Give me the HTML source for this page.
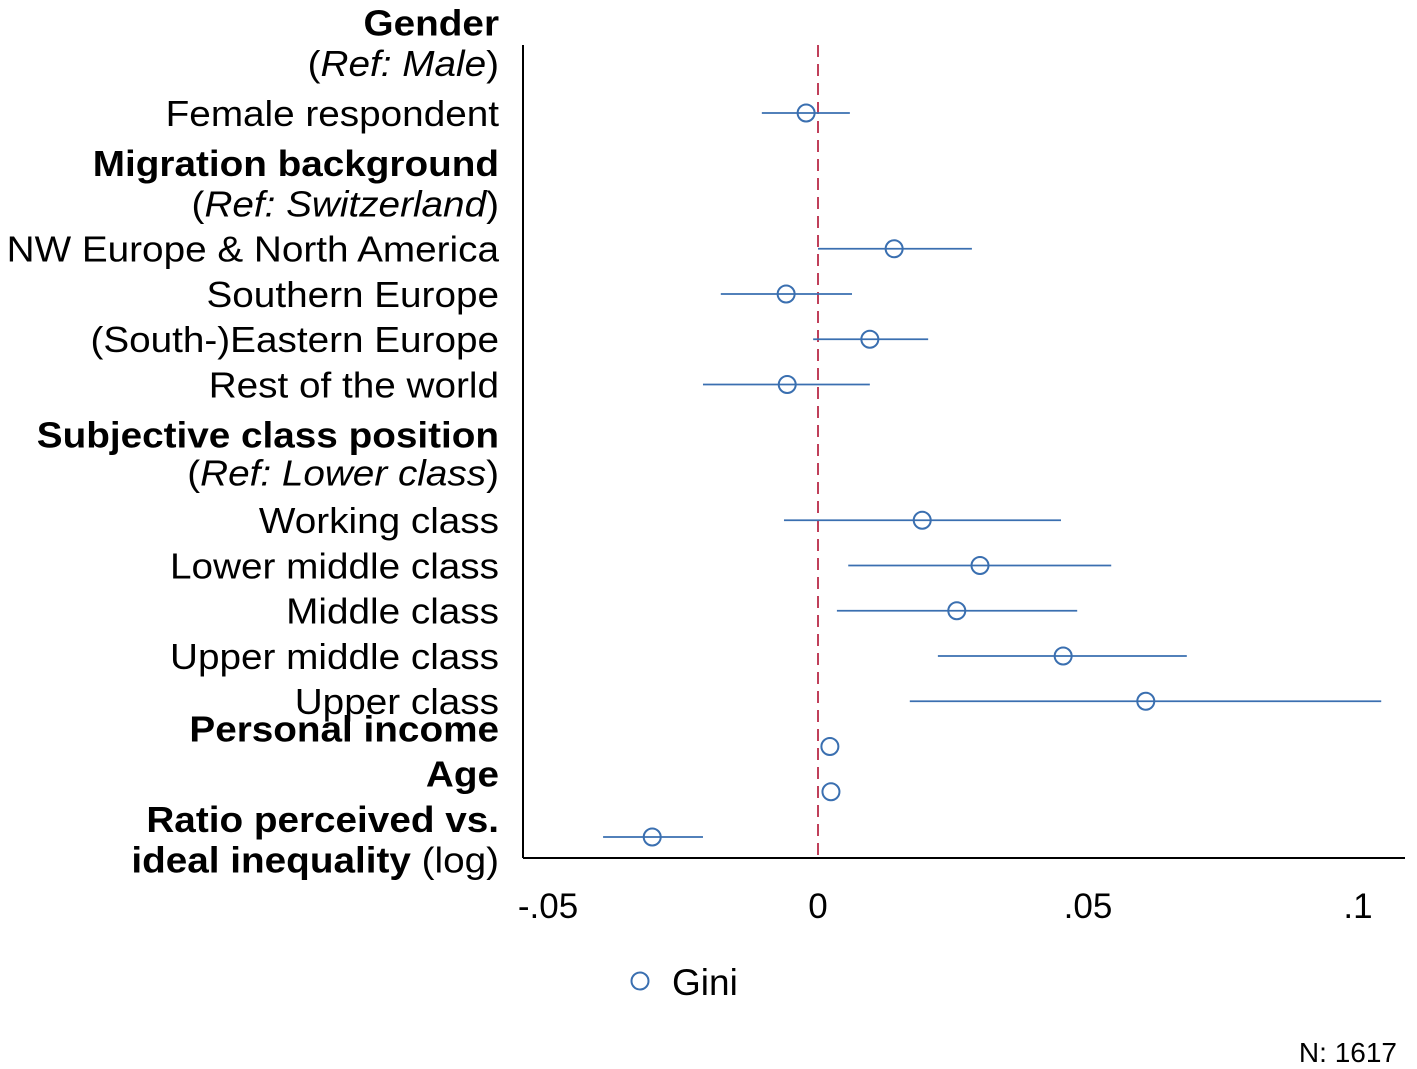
<!DOCTYPE html>
<html><head><meta charset="utf-8"><style>
html,body{margin:0;padding:0;background:#fff;}
svg{display:block;font-family:"Liberation Sans",Arial,sans-serif;}
</style></head><body>
<svg id="chart" width="1417" height="1069" viewBox="0 0 1417 1069">
<g id="labels" font-size="36" text-anchor="end" fill="#000" transform="translate(499,0) scale(1.075,1) translate(-499,0)"></g>
<line x1="523" y1="45" x2="523" y2="858" stroke="#000" stroke-width="2"/>
<line x1="523" y1="858" x2="1405" y2="858" stroke="#000" stroke-width="2"/>
<line id="zero" y1="45" y2="858" stroke="#c0405a" stroke-width="2" stroke-dasharray="12,7"/>
<g id="ticks" font-size="35" text-anchor="middle"></g>
<g id="marks"></g>
<g>
<circle cx="640" cy="981" r="8.5" fill="none" stroke="#3a6fb0" stroke-width="2"/>
<text x="672" y="995" font-size="37">Gini</text>
</g>
<text x="1397" y="1062" font-size="28" text-anchor="end">N: 1617</text>
</svg>
<script>
const rowNames=["Female respondent","NW Europe & North America","Southern Europe","(South-)Eastern Europe","Rest of the world","Working class","Lower middle class","Middle class","Upper middle class","Upper class","Personal income","Age","Ratio"];
const rowSlots=[2,5,6,7,8,11,12,13,14,15,16,17,18];
const estimates=[-0.0022,0.0141,-0.0059,0.0096,-0.0057,0.0193,0.030,0.0257,0.0454,0.0607,0.0022,0.0024,-0.0307];
const ciLow=[-0.0104,0,-0.018,-0.0009,-0.0213,-0.0063,0.0056,0.0035,0.0222,0.017,0.0022,0.0024,-0.0398];
const ciHigh=[0.0059,0.0285,0.0063,0.0204,0.0096,0.045,0.0543,0.048,0.0683,0.1043,0.0022,0.0024,-0.0213];
const tickValues=[-0.05,0,0.05,0.1];
const tickLabels=["-.05","0",".05",".1"];
const NS="http://www.w3.org/2000/svg";
function x(v){return 818+v*5400;}
function slotY(s){return 113+(s-2)*45.25;}
function mk(tag,attrs,parent){const e=document.createElementNS(NS,tag);for(const k in attrs)e.setAttribute(k,attrs[k]);parent.appendChild(e);return e;}
document.getElementById('zero').setAttribute('x1',x(0));
document.getElementById('zero').setAttribute('x2',x(0));
const tg=document.getElementById('ticks');
tickValues.forEach((v,i)=>{const t=mk('text',{x:x(v),y:918},tg);t.textContent=tickLabels[i];

});
const mg=document.getElementById('marks');
estimates.forEach((v,i)=>{const y=slotY(rowSlots[i]);
const l=mk('line',{x1:x(ciLow[i]),x2:x(ciHigh[i]),y1:y,y2:y,stroke:'#3a6fb0','stroke-width':1.8},mg);


const c=mk('circle',{cx:x(v),cy:y,r:8.5,fill:'none',stroke:'#3a6fb0','stroke-width':2},mg);

});
const lg=document.getElementById('labels');
const labelDefs=[
[0,'<tspan font-weight="bold">Gender</tspan>'],[0.9,'(<tspan font-style="italic">Ref: Male</tspan>)'],
[2,'Female respondent'],[3.1,'<tspan font-weight="bold">Migration background</tspan>'],[4,'(<tspan font-style="italic">Ref: Switzerland</tspan>)'],
[5,'NW Europe &amp; North America'],[6,'Southern Europe'],[7,'(South-)Eastern Europe'],[8,'Rest of the world'],
[9.1,'<tspan font-weight="bold">Subjective class position</tspan>'],[9.95,'(<tspan font-style="italic">Ref: Lower class</tspan>)'],
[11,'Working class'],[12,'Lower middle class'],[13,'Middle class'],[14,'Upper middle class'],[15,'Upper class'],
[15.6,'<tspan font-weight="bold">Personal income</tspan>'],[16.6,'<tspan font-weight="bold">Age</tspan>'],
[17.6,'<tspan font-weight="bold">Ratio perceived vs.</tspan>'],[18.5,'<tspan font-weight="bold">ideal inequality</tspan> (log)']];
labelDefs.forEach(d=>{const t=mk('text',{x:499,y:slotY(d[0])+13},lg);t.innerHTML=d[1];

});
</script>
</body></html>
